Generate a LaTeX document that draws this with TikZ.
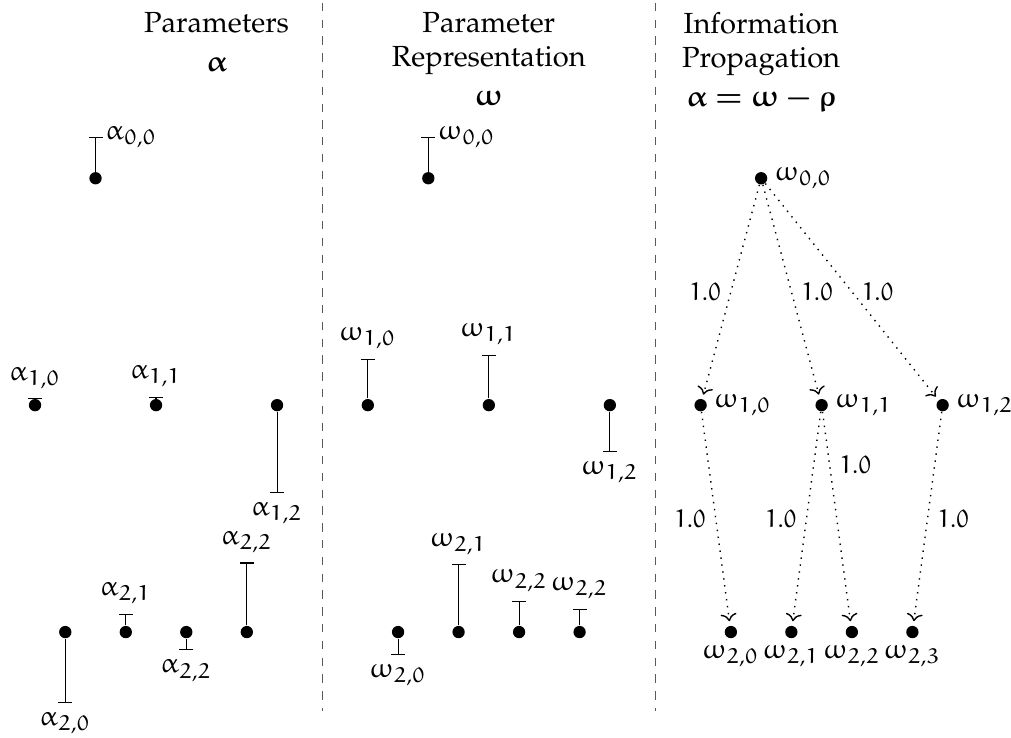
\documentclass[tikz,border=0pt]{standalone}
\usepackage[T1]{fontenc}
\usepackage{mathpazo}
\usepackage{amsmath}
\DeclareSymbolFont{eul}{U}{eur}{m}{n}
\SetSymbolFont{eul}{bold}{U}{eur}{b}{n}
\DeclareMathSymbol{\alpha}{\mathord}{eul}{"0B}
\DeclareMathSymbol{\omega}{\mathord}{eul}{"21}
\DeclareMathSymbol{\rho}{\mathord}{eul}{"1A}
\DeclareMathSymbol{0}{\mathalpha}{eul}{"30}
\DeclareMathSymbol{1}{\mathalpha}{eul}{"31}
\DeclareMathSymbol{2}{\mathalpha}{eul}{"32}
\DeclareMathSymbol{3}{\mathalpha}{eul}{"33}
\usetikzlibrary{arrows.meta}

\begin{document}
\begin{tikzpicture}[x=.76cm,y=.76cm,
  pt/.style={circle,fill,inner sep=0pt,minimum size=4.4pt},
  err/.style={-{Bar[width=5pt]}},
  flow/.style={dotted,line width=.5pt,-{To},shorten >=1.5pt},
  wt/.style={font=\small},
  head/.style={anchor=north,align=center,inner sep=0pt,font=\fontsize{10.4}{12}\selectfont}]
\useasboundingbox (-.579,-1.736) rectangle (16.13,10.446);

\draw[dashed,black!65](4.75,10.4)--(4.75,-1.3);
\draw[dashed,black!65](10.25,10.4)--(10.25,-1.3);

\begin{scope}
\node[head] (hpar) at (3,10.25){Parameters\\[2pt]$\boldsymbol{\alpha}$};
\node[pt] (a00) at (1,7.5){};
\coordinate (a00e) at (1,8.18);
\draw[err](a00)--(a00e) node[right]{$\alpha_{0,0}$};
\node[pt] (a10) at (0,3.75){};
\coordinate (a10e) at (0,3.85);
\draw[err](a10)--(a10e) node[above]{$\alpha_{1,0}$};
\node[pt] (a11) at (2,3.75){};
\coordinate (a11e) at (2,3.89);
\draw[err](a11)--(a11e) node[above]{$\alpha_{1,1}$};
\node[pt] (a12) at (4,3.75){};
\coordinate (a12e) at (4,2.30);
\draw[err](a12)--(a12e) node[below]{$\alpha_{1,2}$};
\node[pt] (a20) at (.5,0){};
\coordinate (a20e) at (.5,-1.17);
\draw[err](a20)--(a20e) node[below]{$\alpha_{2,0}$};
\node[pt] (a21) at (1.5,0){};
\coordinate (a21e) at (1.5,.3);
\draw[err](a21)--(a21e) node[above]{$\alpha_{2,1}$};
\node[pt] (a22) at (2.5,0){};
\coordinate (a22e) at (2.5,-.3);
\draw[err](a22)--(a22e) node[below]{$\alpha_{2,2}$};
\node[pt] (a23) at (3.5,0){};
\coordinate (a23e) at (3.5,1.15);
\draw[err](a23)--(a23e) node[above]{$\alpha_{2,2}$};
\end{scope}

\begin{scope}[xshift=5.5*.76cm]
\node[head] (hrep) at (2,10.25){Parameter\\Representation\\[2pt]$\boldsymbol{\omega}$};
\node[pt] (w00) at (1,7.5){};
\coordinate (w00e) at (1,8.18);
\draw[err](w00)--(w00e) node[right]{$\omega_{0,0}$};
\node[pt] (w10) at (0,3.75){};
\coordinate (w10e) at (0,4.52);
\draw[err](w10)--(w10e) node[above]{$\omega_{1,0}$};
\node[pt] (w11) at (2,3.75){};
\coordinate (w11e) at (2,4.58);
\draw[err](w11)--(w11e) node[above]{$\omega_{1,1}$};
\node[pt] (w12) at (4,3.75){};
\coordinate (w12e) at (4,2.98);
\draw[err](w12)--(w12e) node[below]{$\omega_{1,2}$};
\node[pt] (w20) at (.5,0){};
\coordinate (w20e) at (.5,-.38);
\draw[err](w20)--(w20e) node[below]{$\omega_{2,0}$};
\node[pt] (w21) at (1.5,0){};
\coordinate (w21e) at (1.5,1.12);
\draw[err](w21)--(w21e) node[above]{$\omega_{2,1}$};
\node[pt] (w22) at (2.5,0){};
\coordinate (w22e) at (2.5,.51);
\draw[err](w22)--(w22e) node[above]{$\omega_{2,2}$};
\node[pt] (w23) at (3.5,0){};
\coordinate (w23e) at (3.5,.38);
\draw[err](w23)--(w23e) node[above]{$\omega_{2,2}$};
\end{scope}

\begin{scope}[xshift=11*.76cm]
\node[head] (hprop) at (1,10.25){Information\\Propagation\\[2pt]$\boldsymbol{\alpha=\omega-\rho}$};
\node[pt,label={[label distance=-1pt]right:$\omega_{0,0}$}] (p00) at (1,7.5){};
\node[pt,label={[label distance=-1pt]right:$\omega_{1,0}$}] (p10) at (0,3.75){};
\node[pt,label={[label distance=-1pt]right:$\omega_{1,1}$}] (p11) at (2,3.75){};
\node[pt,label={[label distance=-1pt]right:$\omega_{1,2}$}] (p12) at (4,3.75){};
\node[pt,label={[label distance=-1pt]below:$\omega_{2,0}$}] (p20) at (.5,0){};
\node[pt,label={[label distance=-1pt]below:$\omega_{2,1}$}] (p21) at (1.5,0){};
\node[pt,label={[label distance=-1pt]below:$\omega_{2,2}$}] (p22) at (2.5,0){};
\node[pt,label={[label distance=-1pt]below:$\omega_{2,3}$}] (p23) at (3.5,0){};
\draw[flow](p00)--node[left,wt]{$1.0$}(p10);
\draw[flow](p00)--node[right,wt]{$1.0$}(p11);
\draw[flow](p00)--node[right,wt]{$1.0$}(p12);
\draw[flow](p10)--node[left,wt]{$1.0$}(p20);
\draw[flow](p11)--node[left,wt]{$1.0$}(p21);
\draw[flow](p11)--node[pos=.25,right,wt]{$1.0$}(p22);
\draw[flow](p12)--node[right,wt]{$1.0$}(p23);
\end{scope}
\end{tikzpicture}
\end{document}
